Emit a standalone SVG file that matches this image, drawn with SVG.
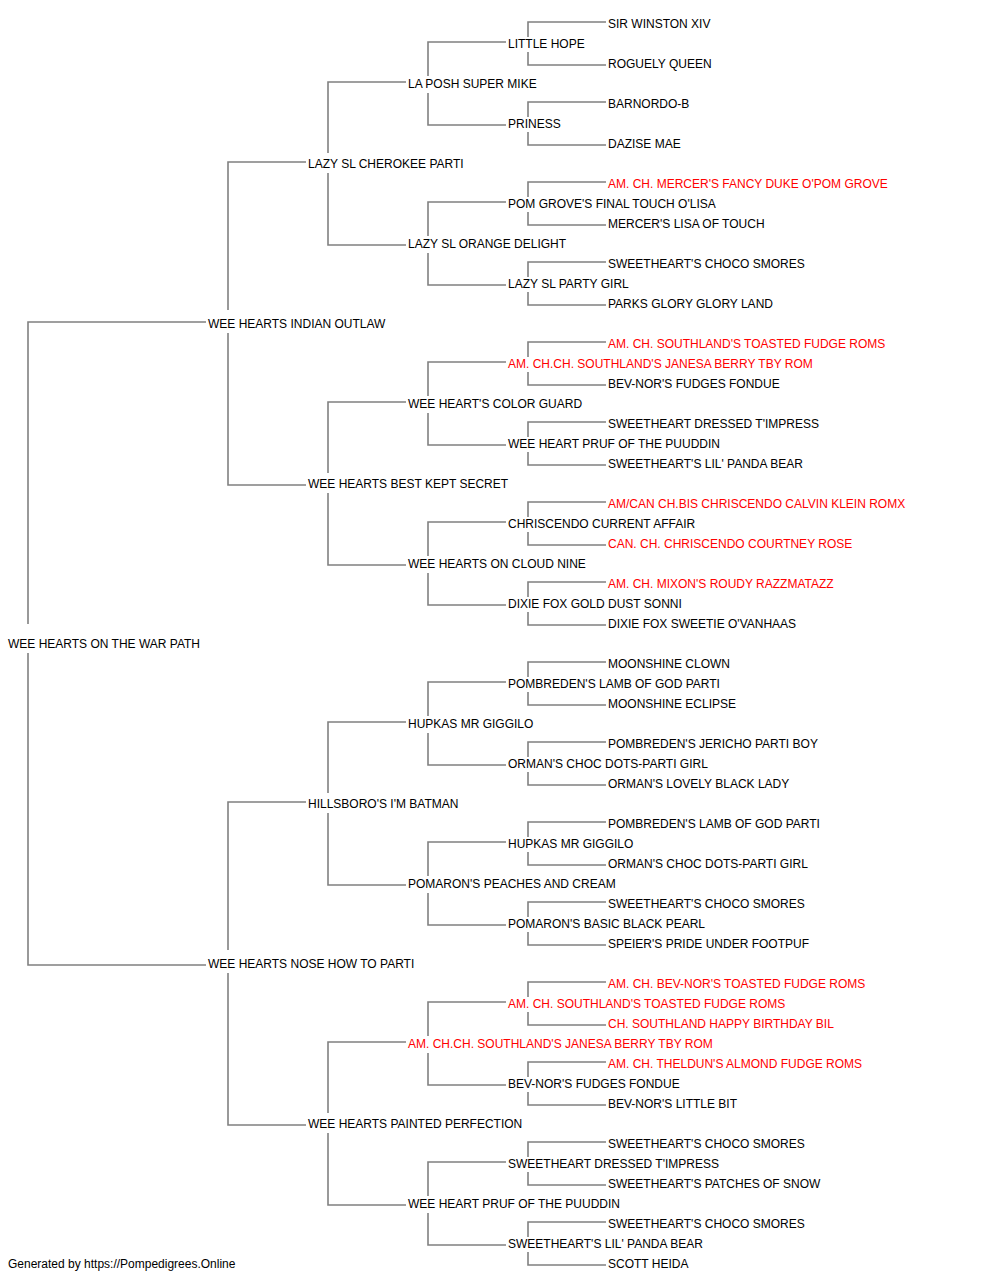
<svg xmlns="http://www.w3.org/2000/svg" width="1000" height="1280" viewBox="0 0 1000 1280">
<style>
text{font-family:"Liberation Sans",Arial,sans-serif;font-size:12px;fill:#000}
text.ch{fill:#ff0000}
#connectors path{fill:none;stroke:#808080;stroke-width:1.6}
</style>
<rect width="1000" height="1280" fill="#fff"/>
<g id="connectors">
<path d="M206 322H28V624M28 653V965H206"/>
<path d="M306 162H228V310M228 333V485H306"/>
<path d="M306 802H228V950M228 973V1125H306"/>
<path d="M406 82H328V153M328 173V245H406"/>
<path d="M406 402H328V473M328 493V565H406"/>
<path d="M406 722H328V793M328 813V885H406"/>
<path d="M406 1042H328V1113M328 1133V1205H406"/>
<path d="M506 42H428V76M428 93V125H506"/>
<path d="M506 202H428V236M428 253V285H506"/>
<path d="M506 362H428V396M428 413V445H506"/>
<path d="M506 522H428V556M428 573V605H506"/>
<path d="M506 682H428V716M428 733V765H506"/>
<path d="M506 842H428V876M428 893V925H506"/>
<path d="M506 1002H428V1036M428 1053V1085H506"/>
<path d="M506 1162H428V1196M428 1213V1245H506"/>
<path d="M606 22H528V37M528 52V65H606"/>
<path d="M606 102H528V117M528 132V145H606"/>
<path d="M606 182H528V197M528 212V225H606"/>
<path d="M606 262H528V277M528 292V305H606"/>
<path d="M606 342H528V357M528 372V385H606"/>
<path d="M606 422H528V437M528 452V465H606"/>
<path d="M606 502H528V517M528 532V545H606"/>
<path d="M606 582H528V597M528 612V625H606"/>
<path d="M606 662H528V677M528 692V705H606"/>
<path d="M606 742H528V757M528 772V785H606"/>
<path d="M606 822H528V837M528 852V865H606"/>
<path d="M606 902H528V917M528 932V945H606"/>
<path d="M606 982H528V997M528 1012V1025H606"/>
<path d="M606 1062H528V1077M528 1092V1105H606"/>
<path d="M606 1142H528V1157M528 1172V1185H606"/>
<path d="M606 1222H528V1237M528 1252V1265H606"/>
</g>
<g id="gen0"><g id="n-root"><text x="8" y="648">WEE HEARTS ON THE WAR PATH</text></g></g>
<g id="gen1">
<g id="n-s"><text x="208" y="328">WEE HEARTS INDIAN OUTLAW</text></g>
<g id="n-d"><text x="208" y="968">WEE HEARTS NOSE HOW TO PARTI</text></g>
</g>
<g id="gen2">
<g id="n-ss"><text x="308" y="168">LAZY SL CHEROKEE PARTI</text></g>
<g id="n-sd"><text x="308" y="488">WEE HEARTS BEST KEPT SECRET</text></g>
<g id="n-ds"><text x="308" y="808">HILLSBORO'S I'M BATMAN</text></g>
<g id="n-dd"><text x="308" y="1128">WEE HEARTS PAINTED PERFECTION</text></g>
</g>
<g id="gen3">
<g id="n3-1"><text x="408" y="88">LA POSH SUPER MIKE</text></g>
<g id="n3-2"><text x="408" y="248">LAZY SL ORANGE DELIGHT</text></g>
<g id="n3-3"><text x="408" y="408">WEE HEART'S COLOR GUARD</text></g>
<g id="n3-4"><text x="408" y="568">WEE HEARTS ON CLOUD NINE</text></g>
<g id="n3-5"><text x="408" y="728">HUPKAS MR GIGGILO</text></g>
<g id="n3-6"><text x="408" y="888">POMARON'S PEACHES AND CREAM</text></g>
<g id="n3-7"><text class="ch" x="408" y="1048">AM. CH.CH. SOUTHLAND'S JANESA BERRY TBY ROM</text></g>
<g id="n3-8"><text x="408" y="1208">WEE HEART PRUF OF THE PUUDDIN</text></g>
</g>
<g id="gen4">
<g id="n4-1"><text x="508" y="48">LITTLE HOPE</text></g>
<g id="n4-2"><text x="508" y="128">PRINESS</text></g>
<g id="n4-3"><text x="508" y="208">POM GROVE'S FINAL TOUCH O'LISA</text></g>
<g id="n4-4"><text x="508" y="288">LAZY SL PARTY GIRL</text></g>
<g id="n4-5"><text class="ch" x="508" y="368">AM. CH.CH. SOUTHLAND'S JANESA BERRY TBY ROM</text></g>
<g id="n4-6"><text x="508" y="448">WEE HEART PRUF OF THE PUUDDIN</text></g>
<g id="n4-7"><text x="508" y="528">CHRISCENDO CURRENT AFFAIR</text></g>
<g id="n4-8"><text x="508" y="608">DIXIE FOX GOLD DUST SONNI</text></g>
<g id="n4-9"><text x="508" y="688">POMBREDEN'S LAMB OF GOD PARTI</text></g>
<g id="n4-10"><text x="508" y="768">ORMAN'S CHOC DOTS-PARTI GIRL</text></g>
<g id="n4-11"><text x="508" y="848">HUPKAS MR GIGGILO</text></g>
<g id="n4-12"><text x="508" y="928">POMARON'S BASIC BLACK PEARL</text></g>
<g id="n4-13"><text class="ch" x="508" y="1008">AM. CH. SOUTHLAND'S TOASTED FUDGE ROMS</text></g>
<g id="n4-14"><text x="508" y="1088">BEV-NOR'S FUDGES FONDUE</text></g>
<g id="n4-15"><text x="508" y="1168">SWEETHEART DRESSED T'IMPRESS</text></g>
<g id="n4-16"><text x="508" y="1248">SWEETHEART'S LIL' PANDA BEAR</text></g>
</g>
<g id="gen5">
<g id="n5-1"><text x="608" y="28">SIR WINSTON XIV</text></g>
<g id="n5-2"><text x="608" y="68">ROGUELY QUEEN</text></g>
<g id="n5-3"><text x="608" y="108">BARNORDO-B</text></g>
<g id="n5-4"><text x="608" y="148">DAZISE MAE</text></g>
<g id="n5-5"><text class="ch" x="608" y="188">AM. CH. MERCER'S FANCY DUKE O'POM GROVE</text></g>
<g id="n5-6"><text x="608" y="228">MERCER'S LISA OF TOUCH</text></g>
<g id="n5-7"><text x="608" y="268">SWEETHEART'S CHOCO SMORES</text></g>
<g id="n5-8"><text x="608" y="308">PARKS GLORY GLORY LAND</text></g>
<g id="n5-9"><text class="ch" x="608" y="348">AM. CH. SOUTHLAND'S TOASTED FUDGE ROMS</text></g>
<g id="n5-10"><text x="608" y="388">BEV-NOR'S FUDGES FONDUE</text></g>
<g id="n5-11"><text x="608" y="428">SWEETHEART DRESSED T'IMPRESS</text></g>
<g id="n5-12"><text x="608" y="468">SWEETHEART'S LIL' PANDA BEAR</text></g>
<g id="n5-13"><text class="ch" x="608" y="508">AM/CAN CH.BIS CHRISCENDO CALVIN KLEIN ROMX</text></g>
<g id="n5-14"><text class="ch" x="608" y="548">CAN. CH. CHRISCENDO COURTNEY ROSE</text></g>
<g id="n5-15"><text class="ch" x="608" y="588">AM. CH. MIXON'S ROUDY RAZZMATAZZ</text></g>
<g id="n5-16"><text x="608" y="628">DIXIE FOX SWEETIE O'VANHAAS</text></g>
<g id="n5-17"><text x="608" y="668">MOONSHINE CLOWN</text></g>
<g id="n5-18"><text x="608" y="708">MOONSHINE ECLIPSE</text></g>
<g id="n5-19"><text x="608" y="748">POMBREDEN'S JERICHO PARTI BOY</text></g>
<g id="n5-20"><text x="608" y="788">ORMAN'S LOVELY BLACK LADY</text></g>
<g id="n5-21"><text x="608" y="828">POMBREDEN'S LAMB OF GOD PARTI</text></g>
<g id="n5-22"><text x="608" y="868">ORMAN'S CHOC DOTS-PARTI GIRL</text></g>
<g id="n5-23"><text x="608" y="908">SWEETHEART'S CHOCO SMORES</text></g>
<g id="n5-24"><text x="608" y="948">SPEIER'S PRIDE UNDER FOOTPUF</text></g>
<g id="n5-25"><text class="ch" x="608" y="988">AM. CH. BEV-NOR'S TOASTED FUDGE ROMS</text></g>
<g id="n5-26"><text class="ch" x="608" y="1028">CH. SOUTHLAND HAPPY BIRTHDAY BIL</text></g>
<g id="n5-27"><text class="ch" x="608" y="1068">AM. CH. THELDUN'S ALMOND FUDGE ROMS</text></g>
<g id="n5-28"><text x="608" y="1108">BEV-NOR'S LITTLE BIT</text></g>
<g id="n5-29"><text x="608" y="1148">SWEETHEART'S CHOCO SMORES</text></g>
<g id="n5-30"><text x="608" y="1188">SWEETHEART'S PATCHES OF SNOW</text></g>
<g id="n5-31"><text x="608" y="1228">SWEETHEART'S CHOCO SMORES</text></g>
<g id="n5-32"><text x="608" y="1268">SCOTT HEIDA</text></g>
</g>
<text x="8" y="1268">Generated by https://Pompedigrees.Online</text>
</svg>
